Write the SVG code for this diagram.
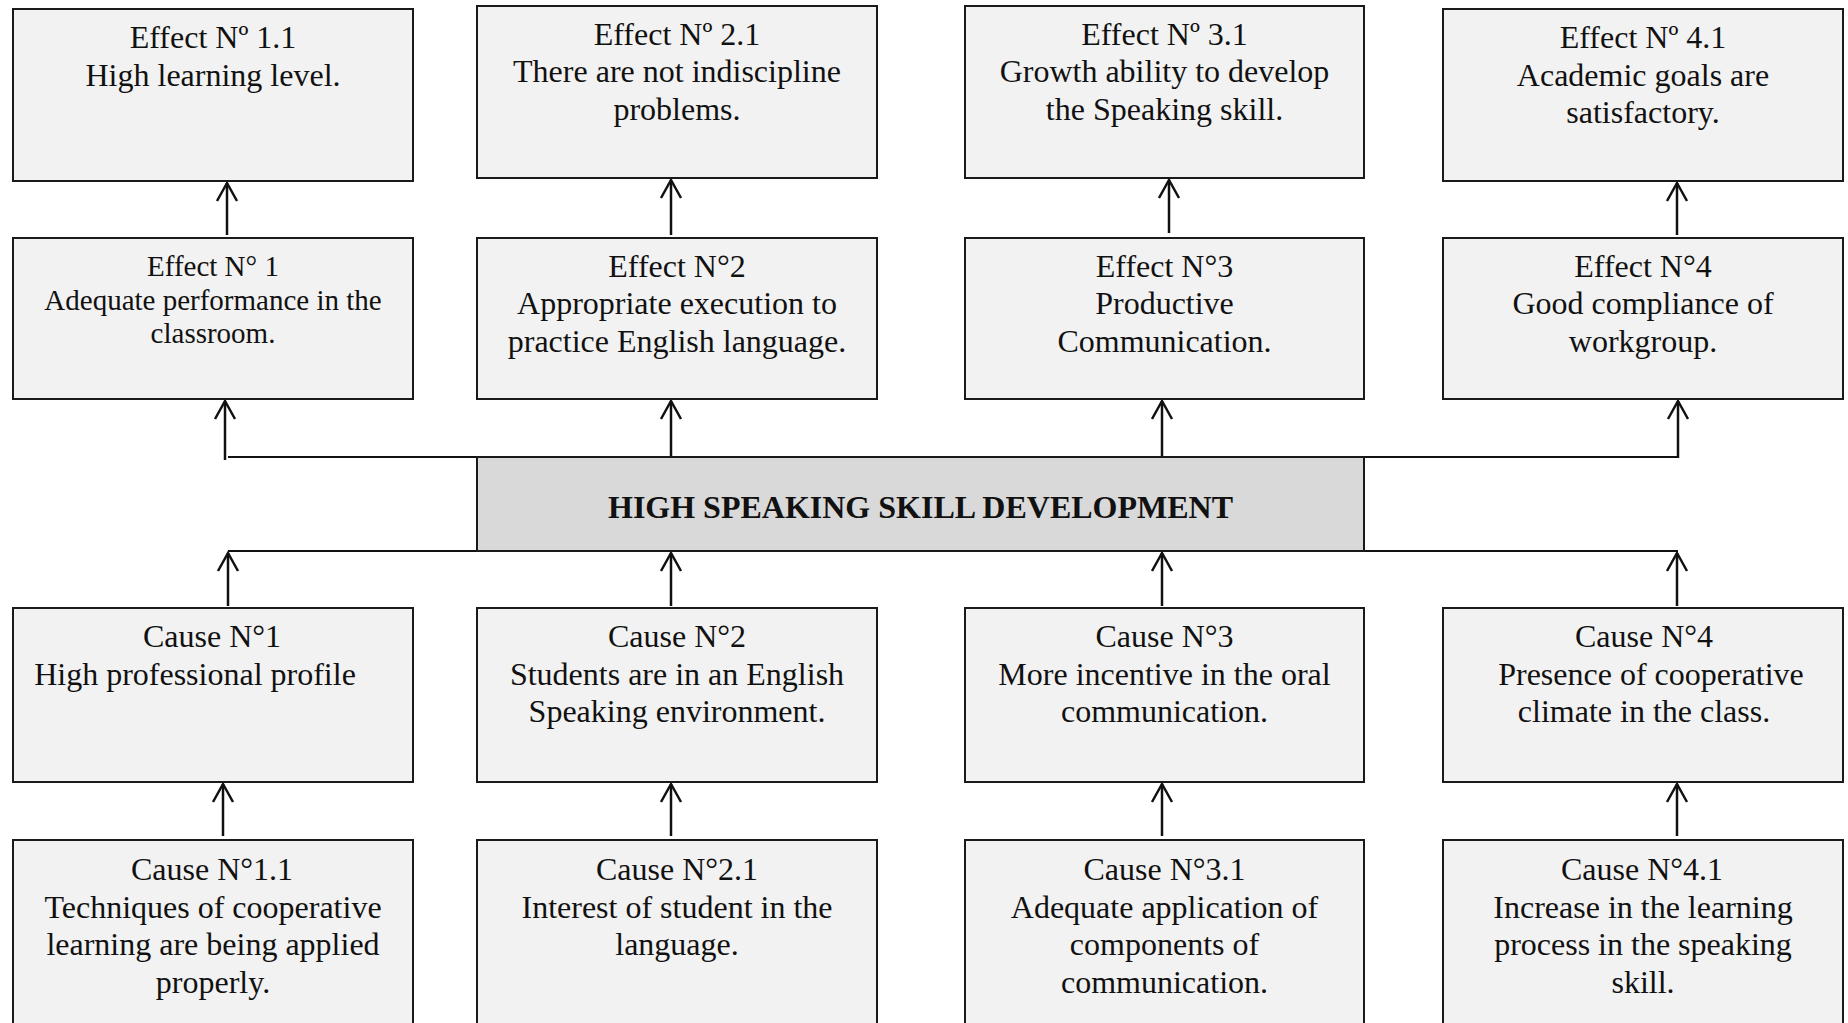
<svg xmlns="http://www.w3.org/2000/svg" width="1848" height="1023" viewBox="0 0 1848 1023">
  <style>
    .box { fill: #f2f2f2; stroke: #1a1a1a; stroke-width: 2; }
    .core { fill: #d9d9d9; stroke: #1a1a1a; stroke-width: 2; }
    .t { font-family: "Liberation Serif", "Times New Roman", serif; font-size: 32px; fill: #111; text-anchor: middle; }
    .s { font-size: 29px; }
    .b { font-weight: bold; font-size: 32px; }
    .link { fill: none; stroke: #111; stroke-width: 2.5; }
    .bus { fill: none; stroke: #111; stroke-width: 2; }
  </style>
  <defs>
    <marker id="open" markerUnits="userSpaceOnUse" markerWidth="26" markerHeight="26" viewBox="-22 -13 26 26" refX="0" refY="0" orient="auto" overflow="visible">
      <path d="M-18,-10 L0,0 L-18,10" fill="none" stroke="#111" stroke-width="2.5"/>
    </marker>
  </defs>
  <rect width="1848" height="1023" fill="#ffffff"/>

  <!-- connectors -->
  <g id="connectors">
    <!-- effect -> secondary effect -->
    <path class="link" d="M227,235 V183" marker-end="url(#open)"/>
    <path class="link" d="M671,235 V180" marker-end="url(#open)"/>
    <path class="link" d="M1169,233 V180" marker-end="url(#open)"/>
    <path class="link" d="M1677,235 V183" marker-end="url(#open)"/>
    <!-- upper bus -->
    <path class="bus" d="M228,457 H1678"/>
    <path class="link" d="M225,460 V401" marker-end="url(#open)"/>
    <path class="link" d="M671,457 V401" marker-end="url(#open)"/>
    <path class="link" d="M1162,457 V401" marker-end="url(#open)"/>
    <path class="link" d="M1678,458 V401" marker-end="url(#open)"/>
    <!-- lower bus -->
    <path class="bus" d="M228,551 H1678"/>
    <path class="link" d="M228,606 V553" marker-end="url(#open)"/>
    <path class="link" d="M671,606 V553" marker-end="url(#open)"/>
    <path class="link" d="M1162,606 V553" marker-end="url(#open)"/>
    <path class="link" d="M1677,606 V553" marker-end="url(#open)"/>
    <!-- secondary cause -> cause -->
    <path class="link" d="M223,836 V784" marker-end="url(#open)"/>
    <path class="link" d="M671,836 V784" marker-end="url(#open)"/>
    <path class="link" d="M1162,836 V784" marker-end="url(#open)"/>
    <path class="link" d="M1677,836 V784" marker-end="url(#open)"/>
  </g>

  <!-- secondary effects -->
  <g id="effect-1-1">
    <rect class="box" x="13" y="9" width="400" height="172"/>
    <text class="t" x="213" y="48">Effect Nº 1.1</text>
    <text class="t" x="213" y="86">High learning level.</text>
  </g>
  <g id="effect-2-1">
    <rect class="box" x="477" y="6" width="400" height="172"/>
    <text class="t" x="677" y="45">Effect Nº 2.1</text>
    <text class="t" x="677" y="82">There are not indiscipline</text>
    <text class="t" x="677" y="120">problems.</text>
  </g>
  <g id="effect-3-1">
    <rect class="box" x="965" y="6" width="399" height="172"/>
    <text class="t" x="1164.5" y="45">Effect Nº 3.1</text>
    <text class="t" x="1164.5" y="82">Growth ability to develop</text>
    <text class="t" x="1164.5" y="120">the Speaking skill.</text>
  </g>
  <g id="effect-4-1">
    <rect class="box" x="1443" y="9" width="400" height="172"/>
    <text class="t" x="1643" y="48">Effect Nº 4.1</text>
    <text class="t" x="1643" y="85.5">Academic goals are</text>
    <text class="t" x="1643" y="123">satisfactory.</text>
  </g>

  <!-- effects -->
  <g id="effect-1">
    <rect class="box" x="13" y="238" width="400" height="161"/>
    <text class="t s" x="213" y="276">Effect N° 1</text>
    <text class="t s" x="213" y="310">Adequate performance in the</text>
    <text class="t s" x="213" y="343">classroom.</text>
  </g>
  <g id="effect-2">
    <rect class="box" x="477" y="238" width="400" height="161"/>
    <text class="t" x="677" y="277">Effect N°2</text>
    <text class="t" x="677" y="314">Appropriate execution to</text>
    <text class="t" x="677" y="352">practice English language.</text>
  </g>
  <g id="effect-3">
    <rect class="box" x="965" y="238" width="399" height="161"/>
    <text class="t" x="1164.5" y="277">Effect N°3</text>
    <text class="t" x="1164.5" y="314">Productive</text>
    <text class="t" x="1164.5" y="352">Communication.</text>
  </g>
  <g id="effect-4">
    <rect class="box" x="1443" y="238" width="400" height="161"/>
    <text class="t" x="1643" y="277">Effect N°4</text>
    <text class="t" x="1643" y="314">Good compliance of</text>
    <text class="t" x="1643" y="352">workgroup.</text>
  </g>

  <!-- central problem -->
  <g id="core">
    <rect class="core" x="477" y="457" width="887" height="94"/>
    <text class="t b" x="920.5" y="518">HIGH SPEAKING SKILL DEVELOPMENT</text>
  </g>

  <!-- causes -->
  <g id="cause-1">
    <rect class="box" x="13" y="608" width="400" height="174"/>
    <text class="t" x="212" y="647">Cause N°1</text>
    <text class="t" x="195" y="684.5">High professional profile</text>
  </g>
  <g id="cause-2">
    <rect class="box" x="477" y="608" width="400" height="174"/>
    <text class="t" x="677" y="647">Cause N°2</text>
    <text class="t" x="677" y="684.5">Students are in an English</text>
    <text class="t" x="677" y="722">Speaking environment.</text>
  </g>
  <g id="cause-3">
    <rect class="box" x="965" y="608" width="399" height="174"/>
    <text class="t" x="1164.5" y="647">Cause N°3</text>
    <text class="t" x="1164.5" y="684.5">More incentive in the oral</text>
    <text class="t" x="1164.5" y="722">communication.</text>
  </g>
  <g id="cause-4">
    <rect class="box" x="1443" y="608" width="400" height="174"/>
    <text class="t" x="1644" y="647">Cause N°4</text>
    <text class="t" x="1651" y="684.5">Presence of cooperative</text>
    <text class="t" x="1644" y="722">climate in the class.</text>
  </g>

  <!-- secondary causes -->
  <g id="cause-1-1">
    <rect class="box" x="13" y="840" width="400" height="200"/>
    <text class="t" x="212" y="880">Cause N°1.1</text>
    <text class="t" x="213" y="917.5">Techniques of cooperative</text>
    <text class="t" x="213" y="955">learning are being applied</text>
    <text class="t" x="213" y="992.5">properly.</text>
  </g>
  <g id="cause-2-1">
    <rect class="box" x="477" y="840" width="400" height="200"/>
    <text class="t" x="677" y="880">Cause N°2.1</text>
    <text class="t" x="677" y="917.5">Interest of student in the</text>
    <text class="t" x="677" y="955">language.</text>
  </g>
  <g id="cause-3-1">
    <rect class="box" x="965" y="840" width="399" height="200"/>
    <text class="t" x="1164.5" y="880">Cause N°3.1</text>
    <text class="t" x="1164.5" y="917.5">Adequate application of</text>
    <text class="t" x="1164.5" y="955">components of</text>
    <text class="t" x="1164.5" y="992.5">communication.</text>
  </g>
  <g id="cause-4-1">
    <rect class="box" x="1443" y="840" width="400" height="200"/>
    <text class="t" x="1642" y="880">Cause N°4.1</text>
    <text class="t" x="1643" y="917.5">Increase in the learning</text>
    <text class="t" x="1643" y="955">process in the speaking</text>
    <text class="t" x="1643" y="992.5">skill.</text>
  </g>
</svg>
